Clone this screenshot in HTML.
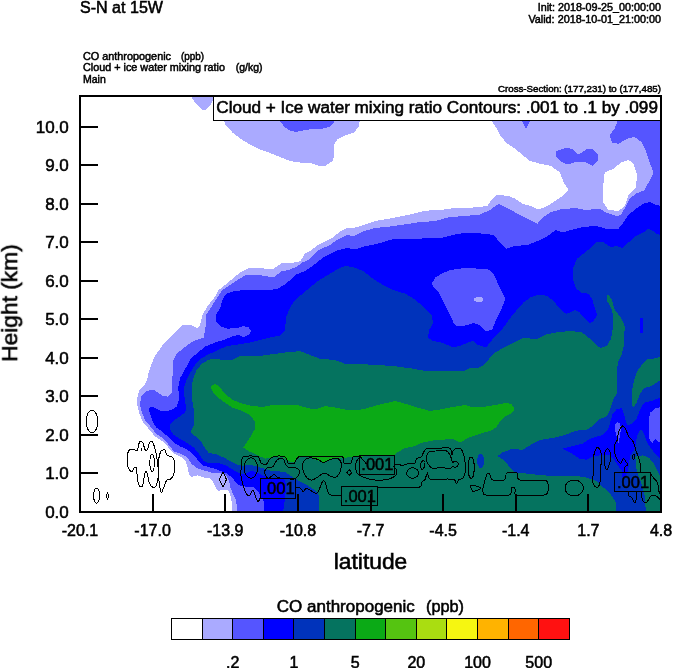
<!DOCTYPE html>
<html><head><meta charset="utf-8"><title>S-N at 15W</title>
<style>
html,body{margin:0;padding:0;background:#fff;}
body{width:674px;height:668px;overflow:hidden;}
svg{display:block;font-family:"Liberation Sans",Arial,Helvetica,sans-serif;fill:#000;}
text{stroke:#000;stroke-width:.5px;paint-order:stroke fill;}
.big text,text.big{stroke-width:.55px;}
text{filter:url(#gray);}
</style></head><body>
<svg width="674" height="668" viewBox="0 0 674 668">
<defs><filter id="gray" x="-5%" y="-20%" width="110%" height="140%" color-interpolation-filters="sRGB"><feColorMatrix type="saturate" values="0"/></filter></defs>
<rect x="0" y="0" width="674" height="668" fill="#fff"/>
<!-- CONTOURS -->
<g id="fills" shape-rendering="crispEdges">
<path d="M191.0 96.0L194.0 101.0L198.0 106.0L202.0 110.0L205.0 110.5L208.0 108.0L211.0 104.0L213.0 100.0L215.0 96.0Z" fill="#aaaaff"/>
<path d="M223.0 118.0L225.5 125.0L232.5 132.5L242.5 140.0L252.5 146.0L260.0 149.5L270.0 153.0L280.0 157.0L290.0 161.0L300.0 162.5L310.0 163.0L317.5 165.5L325.0 166.0L332.5 161.0L334.5 155.0L334.0 145.0L337.5 139.0L346.0 135.0L354.0 132.5L359.0 126.0L360.0 118.0Z" fill="#aaaaff"/>
<path d="M232.0 512.0L231.5 501.0L230.3 494.7L227.7 489.6L222.7 489.6L218.3 491.0L215.2 487.0L212.6 480.8L208.9 478.0L205.5 478.0L198.0 475.4L191.6 476.7L189.0 474.0L187.8 467.9L185.3 460.3L180.3 456.6L172.8 452.8L167.7 446.5L162.7 441.5L155.0 436.4L148.9 429.0L142.6 421.4L139.4 413.8L137.3 405.0L137.5 396.6L139.4 390.3L143.8 386.0L147.0 380.0L148.9 371.4L151.4 364.0L155.0 356.0L162.0 346.0L172.5 335.0L182.5 325.0L190.0 324.5L197.5 328.0L200.0 325.0L202.5 315.0L207.5 306.0L213.7 298.7L218.7 290.0L225.0 285.0L232.5 278.7L240.0 272.5L250.0 267.5L260.0 268.0L272.5 269.5L281.6 263.3L293.0 262.7L300.3 261.3L304.7 253.8L311.0 250.3L318.0 245.0L323.4 242.3L332.3 237.8L339.4 232.0L346.6 228.0L355.5 227.5L362.6 225.3L375.0 221.0L392.5 218.0L407.5 215.0L425.0 210.7L440.0 210.0L455.0 208.0L472.5 207.5L487.5 206.0L491.0 200.0L496.0 195.0L507.5 195.7L515.0 198.7L522.5 203.7L531.0 206.0L538.7 209.5L547.5 206.0L555.0 201.0L562.5 196.0L568.7 190.0L563.7 182.5L560.0 172.5L551.0 166.0L540.0 163.7L530.0 161.0L522.5 155.0L515.0 148.7L506.0 142.5L500.0 135.0L496.0 127.5L490.0 118.0L661.0 118.0L661.0 512.0Z" fill="#aaaaff"/>
<path d="M604.7 172.5L613.5 168.7L621.0 162.5L628.5 160.0L633.5 163.7L637.0 175.0L636.0 187.5L628.5 195.0L624.7 206.0L618.5 211.0L608.5 210.0L603.5 202.5L603.0 187.5Z" fill="#ffffff"/>
<path d="M277.5 118.0L285.0 127.5L291.0 131.0L296.0 132.0L305.0 130.0L315.0 128.7L322.5 128.7L329.0 127.0L334.0 122.5L334.5 118.0Z" fill="#5555ff"/>
<path d="M520.5 118.0L526.0 129.5L531.5 118.0Z" fill="#5555ff"/>
<path d="M556.0 151.0L567.5 147.5L572.5 149.5L578.7 154.5L586.0 149.5L592.5 149.0L597.5 153.7L598.0 160.0L592.5 165.5L585.0 162.0L576.0 162.0L567.5 164.5L560.0 161.0L555.5 156.0Z" fill="#5555ff"/>
<path d="M237.5 512.0L236.0 499.7L232.8 493.4L230.3 487.0L229.0 480.8L226.5 475.8L219.0 472.5L214.0 473.5L209.2 471.7L203.0 470.4L196.7 467.9L191.6 464.0L187.8 457.8L181.6 454.0L174.0 451.5L169.0 445.2L164.0 439.0L156.4 434.0L151.4 427.6L145.0 420.0L142.0 412.5L140.0 405.0L140.0 403.0L141.3 396.6L145.0 392.0L150.0 390.0L155.0 390.3L158.9 393.5L163.3 396.0L167.7 396.6L171.5 392.8L172.0 384.0L172.8 371.4L173.4 360.0L176.5 353.8L182.8 348.8L189.0 343.8L196.0 340.0L203.7 337.5L205.5 327.5L206.0 315.0L212.5 305.0L217.5 297.5L222.5 290.0L230.0 285.0L237.5 280.0L246.0 275.0L255.0 274.5L265.0 276.0L273.6 277.3L281.6 271.3L289.6 269.8L296.7 266.6L302.0 262.7L308.3 260.0L314.5 253.8L319.8 249.4L328.7 245.8L337.6 239.6L346.5 235.1L353.7 236.0L362.6 231.6L375.0 228.0L390.0 226.5L400.0 225.0L417.5 222.5L435.0 221.0L450.0 217.0L465.0 216.0L480.0 214.5L490.0 210.0L498.7 203.7L507.5 208.0L517.5 213.7L527.5 218.7L537.5 223.7L542.5 217.5L550.0 212.5L560.0 209.5L575.0 208.0L586.0 210.0L591.0 209.5L599.7 208.7L606.0 212.5L616.0 216.0L621.0 215.0L626.0 206.0L629.7 198.7L636.0 193.7L644.7 190.0L648.5 182.5L653.5 172.5L649.7 162.5L646.0 151.0L642.0 142.5L634.7 137.0L627.0 138.7L618.5 143.7L612.0 142.5L609.7 135.0L614.7 128.7L618.5 118.0L661.0 118.0L661.0 512.0Z" fill="#5555ff"/>
<path d="M264.2 512.0L263.6 501.0L260.4 496.0L258.0 491.0L252.9 487.0L245.3 486.5L240.3 485.8L236.5 483.3L232.8 478.3L227.7 474.0L220.2 470.8L214.0 468.5L209.2 467.2L203.0 465.4L198.0 460.3L192.9 454.0L186.6 449.0L180.3 446.5L174.0 442.7L169.0 437.7L162.7 432.0L156.4 427.6L152.6 421.4L150.0 413.8L148.6 408.8L151.4 406.6L155.0 408.0L160.0 410.6L166.5 411.3L172.8 409.4L176.5 406.6L178.8 400.4L178.4 386.5L180.3 377.7L184.0 371.4L187.8 364.0L191.6 357.6L198.0 352.6L205.0 346.5L215.0 342.5L225.0 339.5L233.7 336.0L238.7 335.0L243.7 337.0L248.7 335.0L251.0 331.0L248.7 327.5L243.7 326.0L237.5 328.0L227.5 328.7L220.0 326.0L215.5 321.0L215.5 315.0L220.0 308.7L222.5 300.0L226.0 293.7L235.0 291.0L245.0 290.0L257.5 289.5L270.0 290.0L277.5 288.7L286.0 283.7L296.7 274.3L305.6 270.7L314.5 264.5L323.4 257.4L330.5 253.8L337.6 250.3L346.5 248.0L355.5 249.4L364.4 246.3L376.8 244.0L388.0 240.5L395.5 238.7L418.0 238.7L443.0 237.5L458.0 233.7L470.0 233.0L485.0 233.7L493.7 235.0L500.0 242.5L506.0 249.0L515.0 246.0L527.5 245.0L537.5 241.0L547.5 236.0L556.0 230.0L562.5 232.5L572.5 229.5L582.5 227.0L596.0 226.0L606.0 228.7L618.5 228.7L623.5 222.5L628.5 215.0L636.0 208.7L643.5 203.7L649.7 202.0L656.0 205.0L661.0 206.0L661.0 512.0Z" fill="#0000ff"/>
<path d="M431.7 283.7L435.5 277.5L443.0 273.0L450.5 270.0L468.0 267.5L478.0 268.7L486.0 268.7L490.0 270.0L494.7 276.0L499.7 287.5L505.5 298.7L502.0 307.5L497.0 317.5L492.0 330.0L486.0 331.0L479.0 325.0L474.0 323.0L465.5 325.5L456.7 326.0L454.0 323.7L449.0 312.5L443.0 301.0L439.0 292.5L434.0 287.5Z" fill="#5555ff"/>
<ellipse cx="478.5" cy="299.5" rx="4.5" ry="2.5" fill="#aaaaff"/>
<path d="M283.2 512.0L285.0 498.0L286.3 485.0L283.8 478.3L278.8 478.3L272.5 477.7L265.0 476.4L258.6 473.3L252.4 470.8L249.0 472.0L244.0 474.5L239.0 473.3L232.8 469.5L226.5 465.7L219.0 463.2L214.0 463.5L208.0 462.8L203.0 460.3L199.2 454.0L194.0 447.8L186.6 442.7L180.3 439.0L174.0 435.2L170.2 430.0L170.2 423.9L174.0 420.0L180.3 416.3L185.3 412.0L186.6 408.0L184.7 400.4L184.0 387.8L186.6 380.0L190.4 372.7L195.4 364.0L200.4 358.9L208.0 354.5L214.0 352.0L217.5 350.0L227.5 346.0L237.5 344.5L250.0 342.5L260.0 340.0L270.0 337.5L280.0 335.5L285.0 330.0L286.0 317.5L290.0 307.5L295.0 300.0L302.5 293.7L310.0 287.5L318.0 281.0L328.0 275.0L338.0 268.7L345.5 266.0L353.0 267.0L363.0 271.0L373.0 278.7L383.0 285.0L393.0 290.0L405.5 293.7L415.5 300.0L425.5 308.7L431.7 315.0L433.0 323.7L429.0 330.0L428.0 337.5L433.0 341.0L443.0 343.0L453.0 347.5L460.5 345.5L468.0 342.5L473.0 341.0L478.0 345.0L486.0 347.5L490.0 342.5L496.0 335.0L503.5 327.5L509.7 318.7L516.0 311.0L523.5 302.5L531.0 297.0L539.7 294.5L547.0 296.0L553.5 301.0L559.7 308.7L566.0 313.7L569.7 312.5L574.7 310.0L579.7 312.5L584.7 318.7L589.7 323.7L593.5 321.0L597.0 315.0L594.7 307.5L592.0 298.7L588.5 293.7L582.0 293.0L576.0 288.7L573.0 280.0L573.5 267.5L577.0 258.7L583.5 253.7L591.0 247.5L597.0 242.0L603.5 242.5L611.0 247.0L616.0 246.0L622.0 248.0L628.5 242.5L636.0 236.0L643.5 232.5L648.5 228.7L653.5 231.0L657.0 234.0L661.0 235.0L661.0 512.0Z" fill="#0033bb"/>
<path d="M562.5 448.7L572.5 446.0L582.5 443.7L587.5 440.2L595.0 437.0L602.6 435.2L607.7 430.2L610.2 422.6L612.7 413.8L616.5 409.4L621.5 408.2L624.0 413.8L625.3 420.0L627.8 425.8L631.6 423.9L636.6 418.9L639.0 412.6L641.6 406.3L645.4 402.5L653.0 400.6L661.0 397.0L661.0 459.0L655.5 454.0L650.4 447.8L646.6 441.5L644.0 434.0L641.6 429.5L639.0 431.4L636.6 437.7L636.0 444.0L634.0 450.3L630.3 455.3L629.0 463.0L627.8 472.3L623.0 480.0L621.5 470.4L617.7 465.4L614.0 459.0L610.2 455.3L600.0 455.3L592.6 456.6L586.3 459.7L580.0 459.0L570.0 452.5Z" fill="#0000ff"/>
<path d="M615.2 424.0L617.7 422.0L620.2 424.0L621.0 429.0L619.6 437.7L618.4 444.0L617.0 437.7L615.2 431.4Z" fill="#5555ff"/>
<path d="M648.5 418.9L650.4 412.6L655.5 408.2L661.0 407.0L661.0 441.5L658.0 441.5L655.5 439.0L652.3 442.8L649.2 439.0L648.5 429.0Z" fill="#5555ff"/>
<path d="M640.3 318.0L642.8 318.0L643.0 333.0L640.5 333.0Z" fill="#0000ff"/>
<path d="M318.7 512.0L318.7 495.0L315.0 490.0L307.5 485.5L300.0 481.5L292.6 477.0L285.0 472.0L278.8 471.4L272.5 471.4L265.0 468.9L258.6 467.0L249.0 464.5L242.8 465.7L237.8 465.0L231.5 462.0L224.0 457.6L216.4 454.4L208.9 453.0L205.5 449.0L201.7 442.7L195.4 436.4L190.4 432.0L193.5 426.4L194.0 417.6L193.5 408.0L191.6 396.6L191.6 386.5L193.5 377.7L196.7 370.0L201.7 364.0L208.0 360.0L214.0 358.6L220.0 359.5L225.0 360.0L230.0 360.5L237.5 357.5L240.0 356.0L250.0 356.0L260.0 356.0L270.0 354.5L285.0 352.5L292.5 352.0L300.0 351.0L310.0 355.0L320.0 358.7L335.0 360.0L345.0 363.7L355.0 363.7L368.0 364.5L380.0 365.2L393.0 366.0L413.0 368.7L425.5 371.0L438.0 370.5L453.0 371.0L465.5 370.5L470.5 367.5L478.0 368.0L482.5 366.0L486.0 362.5L493.5 353.7L503.5 347.5L513.5 342.5L523.5 337.5L536.0 339.5L546.0 334.5L558.5 332.0L571.0 331.0L582.0 332.5L588.5 337.5L596.0 345.0L601.0 348.0L607.0 345.5L611.0 338.7L613.0 327.5L613.0 315.0L611.0 307.5L607.0 301.0L606.7 296.0L608.5 294.5L612.0 300.0L614.7 310.0L621.0 317.5L624.7 326.0L624.0 345.0L621.4 355.7L617.8 362.9L617.0 371.9L617.3 393.4L613.4 398.8L610.7 407.8L609.5 411.3L606.4 416.4L600.0 418.9L593.8 425.0L587.5 429.5L580.0 430.0L575.0 431.0L565.0 435.0L552.5 438.0L540.0 440.0L532.5 443.7L522.5 450.0L512.5 448.7L502.5 452.5L497.5 456.0L505.0 461.0L510.0 467.5L515.0 472.5L527.5 473.7L540.0 475.0L552.5 476.0L565.0 475.5L577.5 476.0L586.0 477.5L596.0 481.0L603.5 487.5L611.0 495.0L616.0 502.5L616.0 512.0Z" fill="#05735f"/>
<path d="M661.0 356.6L654.7 358.4L647.5 359.3L642.0 364.7L636.7 371.9L634.0 380.8L632.2 389.8L632.2 404.0L633.0 407.8L636.7 402.4L640.3 393.4L643.9 388.0L651.0 386.2L656.5 382.6L661.0 380.0Z" fill="#05735f"/>
<path d="M635.3 456.6L643.0 455.3L649.0 457.8L654.0 464.0L658.0 471.7L661.0 478.0L661.0 512.0L646.0 512.0L644.4 494.0L640.0 479.0L637.0 472.0L636.0 465.0Z" fill="#05735f"/>
<ellipse cx="480.7" cy="461" rx="3.7" ry="7" fill="#0033bb"/>
<path d="M211.0 386.0L215.0 383.7L218.7 386.0L225.0 393.7L232.5 400.0L242.5 403.7L252.5 406.0L262.5 407.0L272.5 405.0L285.0 404.5L297.5 405.0L307.5 408.0L315.0 409.5L325.0 406.0L335.0 407.5L345.0 409.5L355.0 410.5L365.0 408.7L380.0 404.5L395.0 401.0L405.0 403.7L417.5 407.5L430.0 411.0L440.0 409.5L452.5 407.0L465.0 405.0L472.5 407.5L482.5 407.0L495.0 405.0L505.0 403.0L511.0 403.7L514.5 408.7L512.5 412.5L506.0 416.0L501.0 420.0L496.0 427.5L490.0 431.0L480.0 433.7L470.0 437.0L460.0 442.5L452.5 438.7L440.0 440.0L435.0 440.0L422.5 442.5L415.0 446.0L405.0 448.0L397.0 452.5L394.4 455.5L382.5 456.0L362.5 456.5L353.4 457.0L342.7 457.8L336.8 457.8L328.0 460.5L322.6 462.3L315.5 459.6L309.0 457.2L303.0 456.8L298.5 457.8L295.0 461.4L291.4 462.3L287.0 459.6L281.6 456.8L272.7 457.0L265.6 458.7L256.7 455.0L247.8 450.7L243.2 447.5L246.0 443.7L251.0 436.0L255.0 428.7L254.5 421.0L250.0 415.0L242.5 411.0L232.5 407.5L222.5 401.0L215.0 395.0L211.0 388.7Z" fill="#0baa16"/>
</g>
<!-- /CONTOURS -->
<!-- LINES -->
<g id="clines" fill="none" stroke="#000" stroke-width="1" shape-rendering="crispEdges">
<ellipse cx="92" cy="421.5" rx="5.9" ry="11.2"/>
<ellipse cx="96.6" cy="495.6" rx="2.9" ry="7.5"/>
<path d="M107.5 493.3L108.8 496L107.5 498.7L106.2 496Z"/>
<path d="M127.3 457.0C127.6 454.0 127.7 451.8 129.0 450.3C130.3 448.8 132.3 449.5 134.0 449.5C135.7 449.5 136.3 451.5 137.3 450.3C138.3 449.1 138.3 445.5 139.0 443.6C139.7 441.7 139.9 441.0 140.7 441.0C141.5 441.0 142.4 441.9 143.2 443.6C144.0 445.3 144.1 448.3 144.9 449.5C145.7 450.7 146.6 450.7 147.4 449.5C148.2 448.3 148.3 445.3 149.0 443.6C149.7 441.9 150.1 441.0 151.0 441.0C151.9 441.0 152.3 441.4 153.3 443.6C154.3 445.8 155.0 448.3 155.8 452.0C156.6 455.7 157.0 458.0 157.5 462.0C158.0 466.0 158.3 468.0 158.3 472.0C158.3 476.0 158.2 479.0 157.5 482.0C156.8 485.0 156.2 486.1 155.0 487.0C153.8 487.9 152.8 487.4 151.6 486.4C150.4 485.4 149.8 484.5 149.0 482.0C148.2 479.5 148.1 475.9 147.4 473.8C146.7 471.7 146.3 471.0 145.7 471.3C145.1 471.6 144.9 473.0 144.4 475.5C143.9 478.0 143.9 481.5 143.2 483.8C142.5 486.1 141.7 487.2 140.7 487.0C139.7 486.8 138.9 485.6 138.2 483.0C137.5 480.4 137.3 476.8 137.0 473.8C136.7 470.8 137.1 469.2 136.5 468.0C135.9 466.8 134.8 467.3 134.0 468.0C133.2 468.7 133.1 470.8 132.3 471.3C131.5 471.8 130.7 471.6 129.8 470.4C128.9 469.2 128.1 468.1 127.6 465.4C127.1 462.7 127.0 460.0 127.3 457.0Z"/>
<ellipse cx="152.1" cy="462.9" rx="2.2" ry="8.4"/>
<path d="M141.9 448V451"/>
<path d="M164.0 449.6C163.1 449.8 161.9 449.6 160.8 451.5C159.7 453.4 159.3 455.7 158.7 459.0C158.1 462.3 158.0 464.1 158.0 467.9C158.0 471.7 158.4 474.5 158.7 478.0C159.0 481.5 159.1 482.6 159.6 485.5C160.1 488.4 160.4 492.0 161.2 492.5C162.0 493.0 162.4 490.4 163.5 488.0C164.6 485.6 165.2 482.3 166.5 480.5C167.8 478.7 168.8 480.2 170.2 479.2C171.6 478.2 172.5 477.7 173.4 475.4C174.3 473.1 174.6 470.9 174.7 467.9C174.8 464.9 174.6 462.6 174.0 460.3C173.4 458.0 172.9 457.6 171.5 456.6C170.1 455.6 168.3 456.6 167.0 455.3C165.7 454.0 165.8 451.4 165.2 450.3C164.6 449.2 164.9 449.4 164.0 449.6Z"/>
<path d="M223 472L226.5 479.5L223 487L219.5 479.5Z"/>
<path d="M260.6 497.0C260.2 497.7 259.1 501.0 258.5 501.4C257.9 501.8 257.4 501.2 256.7 499.6C255.9 498.0 254.7 493.1 254.0 491.6C253.3 490.1 253.0 490.1 252.3 490.7C251.6 491.3 250.5 494.6 249.6 495.2C248.7 495.8 247.9 495.8 246.9 494.3C245.9 492.8 244.4 489.4 243.4 486.3C242.4 483.2 241.3 479.5 241.0 475.6C240.7 471.7 241.2 466.2 241.6 463.1C242.0 460.0 240.9 458.0 243.4 456.9C245.9 455.8 254.0 456.1 256.7 456.4C259.4 456.7 258.6 457.6 259.4 458.7C260.1 459.8 260.0 462.2 261.2 463.1C262.4 464.0 265.0 464.7 266.5 464.0C268.0 463.3 268.7 460.0 270.0 458.7C271.3 457.4 272.3 456.8 274.5 456.4C276.7 456.0 281.4 456.0 283.4 456.4C285.4 456.8 285.9 457.6 286.6 458.7C287.4 459.8 286.6 462.3 287.9 463.1C289.1 463.9 292.6 464.2 294.1 463.5C295.6 462.8 295.6 459.9 296.8 458.7C298.0 457.5 297.3 456.8 301.2 456.4C305.1 456.0 313.5 456.4 320.0 456.4C326.5 456.4 336.5 456.0 340.4 456.4C344.3 456.8 342.6 457.6 343.3 458.7C344.0 459.8 343.1 462.3 344.3 463.1C345.5 463.9 349.3 464.4 350.7 463.5C352.1 462.6 351.8 459.0 352.5 457.8C353.2 456.6 354.0 456.6 355.2 456.4C356.4 456.2 358.3 455.8 359.6 456.4C360.9 457.0 361.9 458.7 363.0 460.0C364.1 461.3 365.9 463.3 366.5 464.0"/>
<path d="M394.4 464.0C395.3 464.1 398.4 464.3 399.7 464.6C401.0 464.9 401.2 465.9 402.4 465.8C403.6 465.7 404.8 464.4 406.8 464.0C408.8 463.6 412.5 464.5 414.2 463.6C415.9 462.7 415.7 459.6 416.9 458.5C418.1 457.4 420.2 457.9 421.4 456.7C422.6 455.5 423.1 452.7 424.0 451.4C424.9 450.1 424.4 449.2 426.7 448.7C429.0 448.2 434.1 448.4 438.0 448.3C441.9 448.2 447.5 447.2 449.8 448.3C452.1 449.4 451.0 454.6 451.6 455.0C452.2 455.4 452.7 451.6 453.4 450.5C454.1 449.4 454.8 448.6 456.0 448.3C457.2 448.0 459.3 447.9 460.5 448.7C461.7 449.5 462.4 450.9 463.2 453.1C463.9 455.3 464.6 459.0 465.0 462.0C465.4 465.0 465.8 468.3 465.5 471.0C465.2 473.7 464.3 476.5 463.2 478.0C462.1 479.5 459.8 478.9 458.7 479.8C457.6 480.7 457.3 483.4 456.6 483.4C455.9 483.4 455.7 480.5 454.3 479.8C452.9 479.1 452.0 479.1 448.0 479.0C444.0 478.9 433.7 480.1 430.3 479.0C426.9 477.9 428.5 472.6 427.6 472.7C426.7 472.8 425.8 478.3 424.9 479.8C424.0 481.3 423.1 480.4 422.2 481.6C421.3 482.8 423.3 486.0 419.6 487.0C415.9 488.0 407.0 487.4 400.0 487.5C393.0 487.6 381.2 487.7 377.4 487.7"/>
<path d="M341.3 495.0C339.6 495.0 333.3 495.3 331.2 495.0C329.1 494.7 329.3 494.6 328.6 493.4C327.9 492.2 327.4 489.9 326.8 488.0C326.2 486.1 325.7 482.9 325.0 481.8C324.3 480.7 323.4 480.6 322.7 481.3C322.0 482.0 321.4 484.2 320.6 486.0C319.8 487.8 318.9 490.8 318.0 492.0C317.1 493.2 316.3 493.5 315.0 493.2C313.7 492.9 311.8 490.9 310.3 490.2C308.8 489.4 307.1 488.5 305.9 488.7C304.7 488.9 304.1 491.7 303.2 491.6C302.2 491.5 301.5 488.7 300.2 488.0C298.9 487.3 296.3 487.3 295.5 487.2"/>
<ellipse cx="250.9" cy="468" rx="6.7" ry="10.2"/>
<path d="M264.7 471.2C265.1 469.6 265.8 468.5 267.4 467.6C269.0 466.7 271.1 467.8 272.7 466.7C274.3 465.6 274.1 463.9 275.4 462.3C276.7 460.7 277.4 459.3 279.0 458.7C280.6 458.1 282.1 458.1 283.4 459.2C284.7 460.3 284.4 462.3 285.5 464.0C286.6 465.7 286.8 466.9 288.7 467.6C290.6 468.3 293.0 467.2 295.0 467.6C297.0 468.0 297.6 468.3 298.5 469.4C299.4 470.5 299.6 471.5 299.4 472.9C299.2 474.3 298.7 475.3 297.6 476.5C296.5 477.7 296.7 478.6 294.0 479.0C291.3 479.4 287.2 478.8 284.0 478.5C280.8 478.2 279.9 478.2 278.0 477.4C276.1 476.6 275.9 474.9 274.5 474.7C273.1 474.5 272.2 475.8 271.0 476.5C269.8 477.2 269.4 478.5 268.3 478.3C267.2 478.1 266.3 477.0 265.6 475.6C264.9 474.2 264.3 472.8 264.7 471.2Z"/>
<path d="M303.0 463.1C303.6 461.4 304.3 460.3 305.7 459.2C307.1 458.1 307.8 457.8 310.1 457.8C312.4 457.8 314.5 458.3 317.2 459.2C319.9 460.1 321.0 462.2 323.5 462.3C326.0 462.4 327.0 460.4 329.7 459.6C332.4 458.8 334.6 457.8 336.8 458.2C339.0 458.6 339.8 459.7 340.7 461.4C341.6 463.1 341.5 464.4 341.3 466.7C341.1 469.0 340.6 470.8 339.5 472.9C338.4 475.0 337.5 476.7 335.9 477.4C334.3 478.1 333.5 477.2 331.5 476.5C329.5 475.8 327.9 474.3 326.1 473.8C324.3 473.3 324.4 473.1 322.6 473.8C320.8 474.5 319.3 476.2 317.2 477.4C315.1 478.6 313.9 479.8 311.9 480.0C309.9 480.2 309.0 479.7 307.4 478.3C305.8 476.9 304.9 475.0 303.9 472.9C302.9 470.8 302.8 469.6 302.6 467.6C302.4 465.6 302.4 464.8 303.0 463.1Z"/>
<path d="M349.3 469.6L351.6 472.6L349.3 475.6L347 472.6Z"/>
<path d="M358.7 457.8C358.2 458.9 356.5 460.6 356.0 463.1C355.5 465.6 355.5 468.0 356.0 470.3C356.5 472.6 357.1 473.3 358.7 474.7C360.3 476.1 360.8 476.3 364.0 477.4C367.2 478.5 370.2 479.6 374.8 480.0C379.4 480.4 383.3 480.2 387.2 479.5C391.1 478.8 392.4 477.8 394.4 476.5C396.4 475.2 396.7 474.4 397.0 473.0C397.3 471.6 396.9 470.8 396.1 469.4C395.3 468.0 393.6 466.7 393.0 466.0"/>
<ellipse cx="412.6" cy="473" rx="5.9" ry="5.3"/>
<path d="M426.7 456.7C427.1 454.9 426.7 453.3 428.5 452.2C430.3 451.1 432.4 451.3 435.6 451.0C438.8 450.7 442.0 450.3 444.5 450.5C447.0 450.7 446.8 451.0 448.0 452.2C449.2 453.4 449.8 454.7 450.7 456.7C451.6 458.7 451.6 461.1 452.5 462.0C453.4 462.9 454.1 461.0 455.2 461.2C456.3 461.4 457.4 462.1 457.9 463.0C458.4 463.9 458.4 464.7 457.9 465.6C457.4 466.5 456.3 467.2 455.2 467.4C454.1 467.6 453.6 466.3 452.5 466.5C451.4 466.7 452.1 468.1 449.8 468.3C447.5 468.5 444.3 467.7 440.9 467.7C437.5 467.7 435.2 468.7 432.9 468.3C430.6 467.9 430.6 467.0 429.4 465.6C428.2 464.2 427.2 463.0 426.7 461.2C426.2 459.4 426.3 458.5 426.7 456.7Z"/>
<path d="M421.4 462.0C422.1 461.0 423.3 460.1 424.0 460.6C424.7 461.1 425.3 462.9 424.9 464.7C424.5 466.5 423.1 469.3 422.2 469.5C421.3 469.7 420.7 467.1 420.5 465.6C420.3 464.1 420.7 463.0 421.4 462.0Z"/>
<ellipse cx="471.2" cy="467.7" rx="3" ry="10.8"/>
<path d="M471.2 485.2C472.3 484.7 480.8 487.1 481.0 487.9C481.2 488.7 474.3 491.8 473.0 491.4C471.7 491.0 470.1 485.7 471.2 485.2Z"/>
<path d="M482.8 488.7C483.0 487.4 484.1 483.4 484.6 481.6C485.1 479.8 486.6 474.4 487.2 473.6C487.8 472.8 489.3 473.8 489.9 474.5C490.5 475.2 490.5 479.1 492.2 479.8C493.9 480.5 502.4 481.0 504.1 480.2C505.8 479.4 505.3 473.9 506.8 473.0C508.3 472.1 515.1 471.9 516.6 472.7C518.1 473.5 516.2 479.1 519.5 480.0C522.8 480.9 541.7 480.0 545.0 480.5C548.3 481.0 547.6 482.8 548.0 484.0C548.4 485.2 548.4 489.7 548.0 491.0C547.6 492.3 548.2 494.5 544.5 495.0C540.8 495.5 520.0 495.6 516.6 495.0C513.2 494.4 515.8 490.9 515.5 490.0C515.2 489.1 514.4 487.5 513.9 487.3C513.4 487.1 511.8 487.0 511.3 487.9C510.8 488.8 512.5 494.2 509.5 495.0C506.5 495.8 488.6 495.3 485.5 495.0C482.4 494.7 483.6 493.2 483.3 492.5C483.0 491.8 482.6 490.0 482.8 488.7Z"/>
<ellipse cx="574.2" cy="488" rx="9.2" ry="8"/>
<path d="M596.7 448.0C595.3 449.8 593.7 454.7 593.2 459.5C592.7 464.3 594.2 468.1 594.0 472.0C593.8 475.9 592.3 476.3 592.3 479.0C592.3 481.7 592.9 483.7 594.0 485.3C595.1 486.9 596.4 487.6 597.6 487.1C598.8 486.6 599.4 486.3 600.0 482.6C600.6 478.9 600.3 473.4 600.6 468.4C600.9 463.4 601.8 461.3 601.7 457.7C601.6 454.1 601.3 452.5 600.3 450.6C599.3 448.7 598.1 446.2 596.7 448.0Z"/>
<path d="M606.5 449.2C605.4 450.3 604.6 452.9 604.2 456.0C603.8 459.1 604.2 462.1 604.7 464.8C605.2 467.5 606.0 469.3 606.9 469.3C607.8 469.3 608.4 467.5 609.2 464.8C610.0 462.1 610.9 458.8 611.0 456.0C611.1 453.2 610.4 452.0 609.5 450.6C608.6 449.2 607.6 448.1 606.5 449.2Z"/>
<path d="M624.3 472.0C624.5 470.9 624.5 468.0 625.2 466.6C625.9 465.2 627.7 465.7 627.9 464.8C628.1 463.9 627.0 463.4 626.1 462.2C625.2 461.0 624.5 458.4 623.4 458.6C622.3 458.8 622.0 463.2 620.8 463.4C619.6 463.6 618.5 461.7 617.2 459.5C615.9 457.3 615.0 455.4 614.5 452.4C614.0 449.4 614.4 446.9 614.9 444.4C615.4 441.9 616.4 442.7 617.2 440.0C618.0 437.3 617.9 433.8 619.0 431.0C620.1 428.2 621.3 426.5 622.5 426.0C623.7 425.5 623.9 426.3 625.2 428.4C626.5 430.5 627.2 433.7 628.8 436.4C630.4 439.1 631.8 438.9 633.2 441.7C634.6 444.5 634.8 447.4 635.9 450.6C637.0 453.8 637.7 454.9 638.6 457.7C639.5 460.5 639.8 461.9 640.3 464.8C640.8 467.7 640.8 470.6 640.9 472.0"/>
<ellipse cx="633.6" cy="456.8" rx="1.2" ry="2.3"/>
<path d="M627.9 491.5C628.1 492.4 628.1 494.9 628.8 496.0C629.5 497.1 630.3 496.0 631.4 497.2C632.5 498.4 633.2 501.5 634.1 502.2C635.0 502.9 635.4 502.6 635.9 500.5C636.4 498.4 636.6 493.3 636.8 491.5"/>
<path d="M641.2 491.5C641.4 492.9 641.4 496.5 642.1 498.7C642.8 500.9 643.7 502.1 644.8 502.6C645.9 503.1 646.4 502.4 647.5 501.3C648.6 500.2 648.9 498.1 650.1 496.9C651.3 495.7 652.3 495.1 653.7 495.1C655.1 495.1 656.0 496.0 657.3 496.9C658.6 497.8 659.5 499.1 660.0 499.6"/>
<path d="M650.7 473.7C651.3 474.6 652.4 476.4 653.7 478.2C655.0 480.0 656.2 479.9 657.3 482.6C658.4 485.3 658.4 489.0 659.0 491.5C659.6 494.0 660.2 494.3 660.5 495.0"/>
<rect x="260.6" y="478.3" width="34.9" height="20.1"/>
<text x="278.6" y="494.4" font-size="16.5" text-anchor="middle" fill="#000" stroke-width="0.7" shape-rendering="auto">.001</text>
<rect x="359.3" y="455.7" width="35.1" height="18.5"/>
<text x="377.4" y="470.2" font-size="16.5" text-anchor="middle" fill="#000" stroke-width="0.7" shape-rendering="auto">.001</text>
<rect x="341.3" y="486.6" width="36.1" height="18.9"/>
<text x="359.9" y="501.5" font-size="16.5" text-anchor="middle" fill="#000" stroke-width="0.7" shape-rendering="auto">.001</text>
<rect x="614.5" y="472.3" width="36.2" height="19.2"/>
<text x="633.1" y="487.5" font-size="16.5" text-anchor="middle" fill="#000" stroke-width="0.7" shape-rendering="auto">.001</text>
</g>
<!-- /LINES -->
<!-- info box -->
<g shape-rendering="crispEdges">
<rect x="213" y="96" width="448" height="24.5" fill="#fff" stroke="#000" stroke-width="1"/>
</g>
<text x="216.3" y="113" class="big" font-size="16" textLength="441.6" lengthAdjust="spacingAndGlyphs">Cloud + Ice water mixing ratio Contours: .001 to .1 by .099</text>
<!-- frame + ticks -->
<g shape-rendering="crispEdges" stroke="#000" stroke-width="2" fill="none">
<rect x="80" y="96" width="581" height="416"/>
<path d="M81 127H98M81 165H98M81 204H98M81 242H98M81 281H98M81 319H98M81 358H98M81 396H98M81 435H98M81 473H98"/>
<path d="M152.6 511V494M225.2 511V494M297.9 511V494M370.5 511V494M443.1 511V494M515.7 511V494M588.4 511V494"/>
</g>
<!-- y labels -->
<g font-size="17" text-anchor="end" class="big">
<text x="68.8" y="132.5">10.0</text>
<text x="68.8" y="170.5">9.0</text>
<text x="68.8" y="209.5">8.0</text>
<text x="68.8" y="247.5">7.0</text>
<text x="68.8" y="286.5">6.0</text>
<text x="68.8" y="324.5">5.0</text>
<text x="68.8" y="363.5">4.0</text>
<text x="68.8" y="401.5">3.0</text>
<text x="68.8" y="440.5">2.0</text>
<text x="68.8" y="478.5">1.0</text>
<text x="68.8" y="517.5">0.0</text>
</g>
<text transform="translate(17.2,361.8) rotate(-90)" class="big" font-size="22" textLength="117.5" lengthAdjust="spacingAndGlyphs">Height (km)</text>
<!-- x labels -->
<g font-size="16" text-anchor="middle" class="big">
<text x="80" y="536">-20.1</text>
<text x="152.6" y="536">-17.0</text>
<text x="225.2" y="536">-13.9</text>
<text x="297.9" y="536">-10.8</text>
<text x="370.5" y="536">-7.7</text>
<text x="443.1" y="536">-4.5</text>
<text x="515.7" y="536">-1.4</text>
<text x="588.4" y="536">1.7</text>
<text x="661" y="536">4.8</text>
</g>
<text x="333.8" y="569" class="big" font-size="21.5" textLength="73.5" lengthAdjust="spacingAndGlyphs">latitude</text>
<!-- header -->
<text x="80" y="12.5" class="big" font-size="16" textLength="83" lengthAdjust="spacingAndGlyphs">S-N at 15W</text>
<text x="661" y="11.2" font-size="10.7" text-anchor="end" textLength="123.3" lengthAdjust="spacingAndGlyphs">Init: 2018-09-25_00:00:00</text>
<text x="661" y="23.2" font-size="10.7" text-anchor="end" textLength="132.6" lengthAdjust="spacingAndGlyphs">Valid: 2018-10-01_21:00:00</text>
<text x="83" y="59.8" font-size="10.5" textLength="88" lengthAdjust="spacingAndGlyphs">CO anthropogenic</text>
<text x="181" y="59.8" font-size="10.5" textLength="23" lengthAdjust="spacingAndGlyphs">(ppb)</text>
<text x="83" y="71.3" font-size="10.5" textLength="142" lengthAdjust="spacingAndGlyphs">Cloud + ice water mixing ratio</text>
<text x="235.7" y="71.3" font-size="10.5" textLength="26.8" lengthAdjust="spacingAndGlyphs">(g/kg)</text>
<text x="83" y="83" font-size="10.5">Main</text>
<text x="661" y="91.5" font-size="9.5" text-anchor="end" textLength="163" lengthAdjust="spacingAndGlyphs">Cross-Section: (177,231) to (177,485)</text>
<!-- colorbar -->
<text x="276.8" y="612" class="big" font-size="16.5" textLength="138" lengthAdjust="spacingAndGlyphs">CO anthropogenic</text>
<text x="426" y="612" class="big" font-size="16.5" textLength="38" lengthAdjust="spacingAndGlyphs">(ppb)</text>
<g shape-rendering="crispEdges" stroke="#000" stroke-width="1">
<rect x="171.5" y="618.5" width="30.6" height="21" fill="#ffffff"/>
<rect x="202.1" y="618.5" width="30.6" height="21" fill="#aaaaff"/>
<rect x="232.7" y="618.5" width="30.6" height="21" fill="#5555ff"/>
<rect x="263.3" y="618.5" width="30.6" height="21" fill="#0000ff"/>
<rect x="293.9" y="618.5" width="30.6" height="21" fill="#0033bb"/>
<rect x="324.5" y="618.5" width="30.6" height="21" fill="#05735f"/>
<rect x="355.1" y="618.5" width="30.6" height="21" fill="#0baa16"/>
<rect x="385.7" y="618.5" width="30.6" height="21" fill="#55c411"/>
<rect x="416.3" y="618.5" width="30.6" height="21" fill="#aadd11"/>
<rect x="446.9" y="618.5" width="30.6" height="21" fill="#f6f611"/>
<rect x="477.5" y="618.5" width="30.6" height="21" fill="#ffb300"/>
<rect x="508.1" y="618.5" width="30.6" height="21" fill="#ff6600"/>
<rect x="538.7" y="618.5" width="30.6" height="21" fill="#ff1111"/>
</g>
<g font-size="16" text-anchor="middle" class="big">
<text x="232.7" y="667.5">.2</text>
<text x="293.9" y="667.5">1</text>
<text x="355.1" y="667.5">5</text>
<text x="416.3" y="667.5">20</text>
<text x="477.5" y="667.5">100</text>
<text x="538.7" y="667.5">500</text>
</g>
</svg>
</body></html>
